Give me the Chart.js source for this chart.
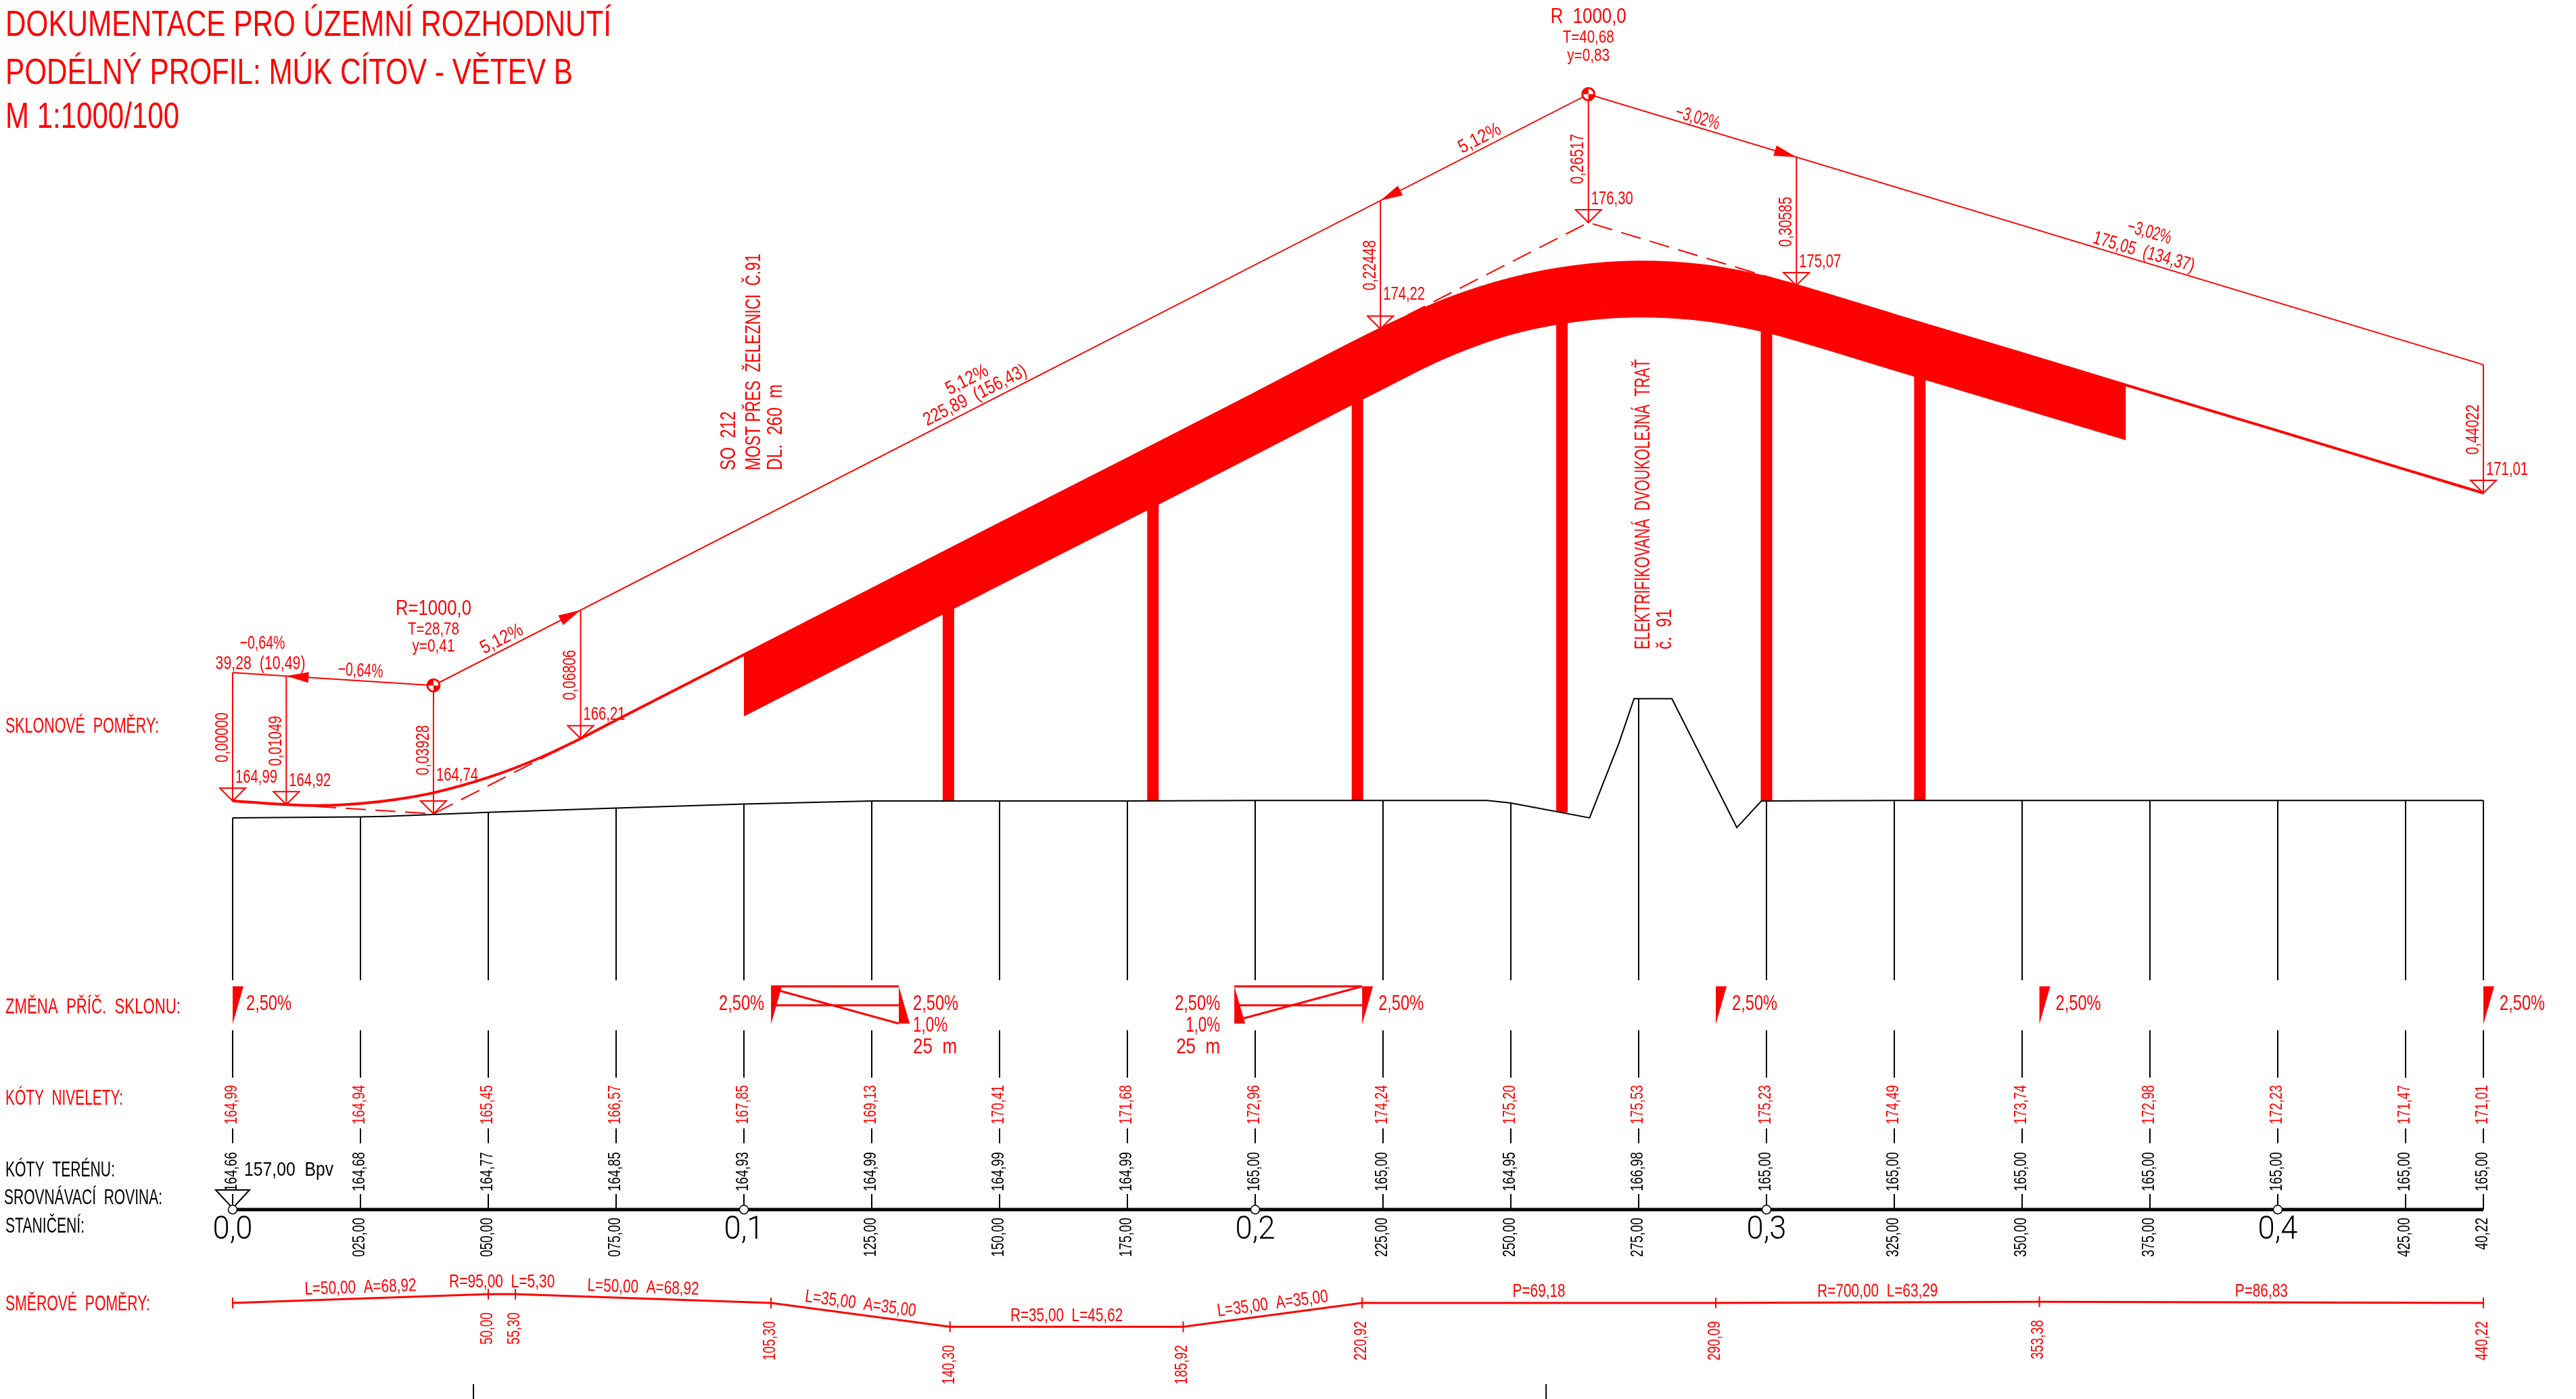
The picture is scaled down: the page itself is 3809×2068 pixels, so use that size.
<!DOCTYPE html>
<html>
<head>
<meta charset="utf-8">
<title>Podélný profil</title>
<style>
  html, body { margin: 0; padding: 0; background: #fff; }
  #wrap { width: 3809px; height: 2068px; }
</style>
<script src="https://cdn.jsdelivr.net/npm/chart.js@4/dist/chart.umd.min.js"></script>
</head>
<body>
<div id="wrap"><canvas id="profil" width="3809" height="2068"></canvas></div>
<script>
// stationing table
const stations = [0, 25, 50, 75, 100, 125, 150, 175, 200, 225, 250, 275, 300, 325, 350, 375, 400, 425, 440.22];
const stationLabels = ['0,0', '025,00', '050,00', '075,00', '0,1', '125,00', '150,00', '175,00', '0,2', '225,00', '250,00', '275,00', '0,3', '325,00', '350,00', '375,00', '0,4', '425,00', '40,22'];
const niveletaLabels = ['164,99', '164,94', '165,45', '166,57', '167,85', '169,13', '170,41', '171,68', '172,96', '174,24', '175,20', '175,53', '175,23', '174,49', '173,74', '172,98', '172,23', '171,47', '171,01'];
const terenLabels = ['164,66', '164,68', '164,77', '164,85', '164,93', '164,99', '164,99', '164,99', '165,00', '165,00', '164,95', '166,98', '165,00', '165,00', '165,00', '165,00', '165,00', '165,00', '165,00'];
const terenValues = [164.66, 164.68, 164.77, 164.85, 164.93, 164.99, 164.99, 164.99, 165.00, 165.00, 164.95, 166.98, 165.00, 165.00, 165.00, 165.00, 165.00, 165.00, 165.00];

// terrain outline, with the railway embankment
const terrainStations = [0, 25, 30, 50, 75, 100, 125, 150, 175, 200, 225, 245.4, 250, 265.4, 271.1, 274.1, 281.5, 294.2, 299, 325, 350, 375, 400, 425, 440.22];
const terrainElev = [164.66, 164.68, 164.69, 164.77, 164.85, 164.93, 164.99, 164.99, 164.99, 165.00, 165.00, 165.00, 164.95, 164.66, 166.11, 166.99, 166.99, 164.47, 164.99, 165.00, 165.00, 165.00, 165.00, 165.00, 165.00];

// road level (niveleta)
const profileStations = [0, 10.49, 17, 25, 32, 39.28, 50, 60, 68.06, 75, 100, 125, 150, 175, 200, 224.49, 237.5, 250, 262.5, 275, 287.5, 300, 305.85, 325, 350, 375, 400, 425, 440.22];
const profileElev = [164.99, 164.92, 164.90, 164.94, 165.02, 165.15, 165.45, 165.83, 166.21, 166.57, 167.85, 169.13, 170.41, 171.68, 172.96, 174.22, 174.80, 175.20, 175.44, 175.53, 175.46, 175.23, 175.07, 174.49, 173.74, 172.98, 172.23, 171.47, 171.01];

// bridge deck SO 212
const deckStations = [100, 125, 150, 175, 200, 224.49, 237.5, 250, 262.5, 275, 287.5, 300, 305.85, 325, 350, 370.3];
const deckTop = [167.85, 169.13, 170.41, 171.68, 172.96, 174.22, 174.80, 175.20, 175.44, 175.53, 175.46, 175.23, 175.07, 174.49, 173.74, 173.13];
const deckBottom = [166.65, 167.93, 169.21, 170.48, 171.76, 173.02, 173.66, 174.11, 174.36, 174.45, 174.38, 174.15, 173.99, 173.41, 172.66, 172.05];
const pierStations = [140, 180, 220, 260, 300, 330];
const pierTop = [168.9, 171.0, 173.0, 174.6, 174.4, 173.5];
const pierBottom = [165.0, 165.0, 165.0, 164.77, 165.0, 165.0];

// grade points and their labels
const gradeStations = [0, 10.49, 39.28, 68.06, 224.49, 265.17, 305.85, 440.22];
const gradeElev = [164.99, 164.92, 164.74, 166.21, 174.22, 176.30, 175.07, 171.01];
const gradeLabels = ['164,99', '164,92', '164,74', '166,21', '174,22', '176,30', '175,07', '171,01'];
const gradeOrdinates = ['0,00000', '0,01049', '0,03928', '0,06806', '0,22448', '0,26517', '0,30585', '0,44022'];
const tangentStations = [0, 39.28, 265.17, 440.22];
const tangentElev = [164.99, 164.74, 176.30, 171.01];
const tangentLift = 2.51;

// horizontal alignment
const dirStations = [0, 50, 55.3, 105.3, 140.3, 185.92, 220.92, 290.09, 353.38, 440.22];
const dirCurvature = [0, 1 / 95, 1 / 95, 0, -1 / 35, -1 / 35, 0, 0, 1 / 700, 0];
const dirStationLabels = ['50,00', '55,30', '105,30', '140,30', '185,92', '220,92', '290,09', '353,38', '440,22'];
const dirSegmentLabels = ['L=50,00  A=68,92', 'R=95,00', 'L=50,00  A=68,92', 'L=35,00  A=35,00', 'R=35,00  L=45,62', 'L=35,00  A=35,00', 'P=69,18', 'R=700,00  L=63,29', 'P=86,83'];

// cross-slope changes
const crownSimple = [0, 290.09, 353.38, 440.22];
const crownFrom = [105.3, 195.92];
const crownTo = [130.3, 220.92];

const RED = '#ff0000';
const BLACK = '#000000';
const W = 3809, H = 2068;
const xPerPx = 7.56, yPerPx = 75.6;
const X0 = 344, Y0 = 1184, E0 = 164.99;

const xMin = -X0 / xPerPx, xMax = (W - X0) / xPerPx;
const yMax = E0 + Y0 / yPerPx, yMin = E0 - (H - Y0) / yPerPx;
// band rows are given in picture rows and turned into the elevation axis
const rowY = row => yMax - row / yPerPx;

const xy = (xs, ys) => xs.map((x, i) => ({ x, y: ys[i] }));
function gaps(pairs) {
  const out = [];
  pairs.forEach(p => { out.push(p[0], p[1], { x: p[0].x, y: null }); });
  return out;
}

const tickPairs = [];
stations.forEach((s, i) => {
  tickPairs.push([{ x: s, y: terenValues[i] }, { x: s, y: rowY(1449) }]);
  tickPairs.push([{ x: s, y: rowY(1523) }, { x: s, y: rowY(1593) }]);
  tickPairs.push([{ x: s, y: rowY(1668) }, { x: s, y: rowY(1690) }]);
  tickPairs.push([{ x: s, y: rowY(1765) }, { x: s, y: rowY(1788) }]);
});
[47.1, 256.9].forEach(s => tickPairs.push([{ x: s, y: rowY(2046) }, { x: s, y: rowY(2068) }]));

const ordinatePairs = gradeStations.map((s, i) => {
  const k = tangentAt(s);
  return [{ x: s, y: k + tangentLift }, { x: s, y: gradeElev[i] }];
});
function tangentAt(s) {
  let i = 0;
  while (i < tangentStations.length - 2 && s > tangentStations[i + 1]) i++;
  const f = (s - tangentStations[i]) / (tangentStations[i + 1] - tangentStations[i]);
  return tangentElev[i] + f * (tangentElev[i + 1] - tangentElev[i]);
}

const dirRow = i => rowY(1926 - dirCurvature[i] * 1235);
const dirPoints = dirStations.map((s, i) => ({ x: s, y: dirRow(i) }));
const dirTicks = dirStations.map((s, i) => [{ x: s, y: dirRow(i) + 8 / yPerPx }, { x: s, y: dirRow(i) - 8 / yPerPx }]);

const crownLines = [];
crownFrom.forEach((s, i) => {
  crownLines.push([{ x: s, y: rowY(1458) }, { x: crownTo[i], y: rowY(1458) }]);
  crownLines.push([{ x: s, y: rowY(1486) }, { x: crownTo[i], y: rowY(1486) }]);
});
crownLines.push([{ x: crownFrom[0], y: rowY(1461) }, { x: crownTo[0], y: rowY(1513) }]);
crownLines.push([{ x: crownFrom[1], y: rowY(1509) }, { x: crownTo[1], y: rowY(1458) }]);

const line = (data, color, width, extra) => Object.assign({
  data, borderColor: color, backgroundColor: color, borderWidth: width,
  pointRadius: 0, fill: false, tension: 0, spanGaps: false, borderCapStyle: 'butt', borderJoinStyle: 'miter'
}, extra || {});

const datasets = [
  line(xy(terrainStations, terrainElev), BLACK, 2),
  line(gaps(tickPairs), BLACK, 2),
  line([{ x: 0, y: 157 }, { x: 440.22, y: 157 }], BLACK, 5),
  line(xy(tangentStations, tangentElev.map(e => e + tangentLift)), RED, 2),
  line(gaps(ordinatePairs), RED, 2),
  line(xy(gradeStations.slice(1, 4), gradeElev.slice(1, 4)), RED, 2, { borderDash: [30, 14] }),
  line(xy(gradeStations.slice(4, 7), gradeElev.slice(4, 7)), RED, 2, { borderDash: [30, 14] }),
  line(xy(profileStations, profileElev), RED, 4, { cubicInterpolationMode: 'monotone' }),
  line(xy(deckStations, deckTop), RED, 1, { cubicInterpolationMode: 'monotone', fill: '+1' }),
  line(xy(deckStations, deckBottom), RED, 1, { cubicInterpolationMode: 'monotone' }),
  line(gaps(pierStations.map((s, i) => [{ x: s, y: pierTop[i] }, { x: s, y: pierBottom[i] }])), RED, 17),
  line(dirPoints, RED, 3),
  line(gaps(dirTicks), RED, 2),
  line(gaps(crownLines), RED, 3)
];

function text(ctx, str, x, y, o) {
  o = o || {};
  ctx.save();
  ctx.translate(x, y);
  ctx.rotate((o.rot || 0) * Math.PI / 180);
  ctx.font = (o.weight ? o.weight + ' ' : '') + (o.size || 26) + 'px ' + (o.family || '"Liberation Sans"');
  ctx.fillStyle = o.color || RED;
  ctx.textAlign = o.align || 'center';
  ctx.textBaseline = 'middle';
  let sx = o.sx || 1;
  if (o.w) sx = o.w / ctx.measureText(str).width;
  ctx.scale(sx, 1);
  ctx.fillText(str, 0, 0);
  ctx.restore();
}

function triangle(ctx, pts, fill, stroke) {
  ctx.beginPath();
  pts.forEach((p, i) => i ? ctx.lineTo(p[0], p[1]) : ctx.moveTo(p[0], p[1]));
  ctx.closePath();
  if (fill) { ctx.fillStyle = fill; ctx.fill(); }
  if (stroke) { ctx.strokeStyle = stroke; ctx.lineWidth = 2; ctx.stroke(); }
}

const drawing = {
  id: 'drawing',
  afterDatasetsDraw(chart) {
    const ctx = chart.ctx;
    const sx = chart.scales.x, sy = chart.scales.y;
    const PX = v => sx.getPixelForValue(v);
    const PY = v => sy.getPixelForValue(v);

    // title block
    text(ctx, 'DOKUMENTACE PRO ÚZEMNÍ ROZHODNUTÍ', 8, 38, { size: 54, w: 896, align: 'left' });
    text(ctx, 'PODÉLNÝ PROFIL: MÚK CÍTOV - VĚTEV B', 8, 109, { size: 54, w: 839, align: 'left' });
    text(ctx, 'M 1:1000/100', 8, 174, { size: 54, w: 257, align: 'left' });

    // row captions
    const cap = { size: 31, align: 'left' };
    text(ctx, 'SKLONOVÉ  POMĚRY:', 8, 1074, Object.assign({ w: 227 }, cap));
    text(ctx, 'ZMĚNA  PŘÍČ.  SKLONU:', 8, 1489, Object.assign({ w: 259 }, cap));
    text(ctx, 'KÓTY  NIVELETY:', 8, 1624, Object.assign({ w: 174 }, cap));
    text(ctx, 'KÓTY  TERÉNU:', 8, 1730, Object.assign({ w: 162, color: BLACK }, cap));
    text(ctx, 'SROVNÁVACÍ  ROVINA:', 6, 1771, Object.assign({ w: 234, color: BLACK }, cap));
    text(ctx, 'STANIČENÍ:', 8, 1813, Object.assign({ w: 117, color: BLACK }, cap));
    text(ctx, 'SMĚROVÉ  POMĚRY:', 8, 1928, Object.assign({ w: 214 }, cap));

    // datum
    const x0 = PX(0), yd = PY(157);
    triangle(ctx, [[x0 - 25, yd - 29], [x0 + 25, yd - 29], [x0, yd - 2]], null, BLACK);
    text(ctx, '157,00  Bpv', x0 + 17, 1730, { size: 29, w: 132, color: BLACK, align: 'left' });

    // station columns
    stations.forEach((s, i) => {
      const x = PX(s);
      text(ctx, niveletaLabels[i], x - 1, 1662, { size: 25, sx: 0.76, rot: -90, align: 'left' });
      text(ctx, terenLabels[i], x - 1, 1761, { size: 25, sx: 0.76, rot: -90, align: 'left', color: BLACK });
      const lab = stationLabels[i];
      if (lab.length === 3) {
        ctx.beginPath();
        ctx.ellipse(x, PY(157), 6.5, 6.5, 0, 0, Math.PI * 2);
        ctx.fillStyle = '#fff';
        ctx.fill();
        ctx.strokeStyle = BLACK;
        ctx.lineWidth = 1.5;
        ctx.stroke();
        text(ctx, lab, x, 1819, { size: 49, w: 59, color: BLACK, family: 'Roboto', weight: 300 });
      } else {
        text(ctx, lab, x - 1, 1800, { size: 25, sx: 0.76, rot: -90, align: 'right', color: BLACK });
      }
    });

    // grade levels, triangles and ordinates
    gradeStations.forEach((s, i) => {
      const x = PX(s), tip = PY(gradeElev[i]);
      triangle(ctx, [[x - 19, tip - 19], [x + 19, tip - 19], [x, tip]], null, RED);
      const lift = i === 2 ? 57 : i === 4 ? 51 : 35;
      text(ctx, gradeLabels[i], x + 4, tip - lift, { size: 28, w: 62, align: 'left' });
      text(ctx, gradeOrdinates[i], x - 15, tip - 57, { size: 28, w: 74, rot: -90, align: 'left' });
    });

    // arrow heads on the tangent line
    const slope = [[10.49, 39.28], [68.06, 39.28], [224.49, 265.17], [305.85, 265.17]];
    slope.forEach(a => {
      const tx = PX(a[0]), ty = PY(tangentAt(a[0]) + tangentLift);
      const bx = PX(a[1]), by = PY(tangentAt(a[1]) + tangentLift);
      const len = Math.hypot(bx - tx, by - ty);
      const ux = (bx - tx) / len, uy = (by - ty) / len;
      triangle(ctx, [[tx, ty], [tx + ux * 33 - uy * 8, ty + uy * 33 + ux * 8], [tx + ux * 33 + uy * 8, ty + uy * 33 - ux * 8]], RED);
    });

    // tangent intersections
    [[39.28, 164.74], [265.17, 176.30]].forEach(p => {
      const x = PX(p[0]), y = PY(p[1] + tangentLift);
      ctx.beginPath();
      ctx.arc(x, y, 9, 0, Math.PI * 2);
      ctx.fillStyle = '#fff';
      ctx.fill();
      ctx.strokeStyle = RED;
      ctx.lineWidth = 3;
      ctx.stroke();
      ctx.fillStyle = RED;
      ctx.beginPath();
      ctx.moveTo(x, y);
      ctx.arc(x, y, 9, Math.PI, Math.PI * 1.5);
      ctx.closePath();
      ctx.fill();
      ctx.beginPath();
      ctx.moveTo(x, y);
      ctx.arc(x, y, 9, 0, Math.PI * 0.5);
      ctx.closePath();
      ctx.fill();
    });

    // curve data and slope labels
    const a = PX(39.28), b = PX(265.17);
    text(ctx, 'R=1000,0', a, 900, { size: 31, w: 112 });
    text(ctx, 'T=28,78', a, 931, { size: 26, w: 76 });
    text(ctx, 'y=0,41', a, 956, { size: 26, w: 63 });
    text(ctx, 'R  1000,0', b, 25, { size: 31, w: 112 });
    text(ctx, 'T=40,68', b, 56, { size: 26, w: 76 });
    text(ctx, 'y=0,83', b, 83, { size: 26, w: 63 });
    const sl = { size: 28, w: 67 };
    text(ctx, '−0,64%', 388, 951, sl);
    text(ctx, '39,28  (10,49)', 385, 981, { size: 28, w: 133 });
    text(ctx, '−0,64%', 533, 992, Object.assign({ rot: 3 }, sl));
    text(ctx, '5,12%', 742, 945, Object.assign({ rot: -27 }, sl));
    text(ctx, '5,12%', 1430, 562, Object.assign({ rot: -27 }, sl));
    text(ctx, '225,89  (156,43)', 1442, 585, { size: 28, w: 168, rot: -27 });
    text(ctx, '5,12%', 2188, 205, Object.assign({ rot: -27 }, sl));
    text(ctx, '−3,02%', 2510, 175, Object.assign({ rot: 16 }, sl));
    text(ctx, '−3,02%', 3178, 344, Object.assign({ rot: 16 }, sl));
    text(ctx, '175,05  (134,37)', 3170, 373, { size: 28, w: 155, rot: 16 });

    // vertical notes
    const note = { size: 31, rot: -90, align: 'left' };
    text(ctx, 'SO  212', 1078, 695, Object.assign({ w: 87 }, note));
    text(ctx, 'MOST PŘES  ŽELEZNICI  Č.91', 1115, 695, Object.assign({ w: 320 }, note));
    text(ctx, 'DL.  260  m', 1147, 695, Object.assign({ w: 127 }, note));
    text(ctx, 'ELEKTRIFIKOVANÁ  DVOUKOLEJNÁ  TRAŤ', 2430, 960, Object.assign({ w: 429 }, note));
    text(ctx, 'č.  91', 2462, 960, Object.assign({ w: 60 }, note));

    // cross slope wedges
    const top = 1458, bot = 1514;
    crownSimple.forEach(s => {
      const x = PX(s);
      triangle(ctx, [[x, top], [x + 16, top], [x, bot]], RED);
    });
    crownFrom.forEach((s, i) => {
      const x = PX(s), e = PX(crownTo[i]);
      if (i === 0) {
        triangle(ctx, [[x, top], [x + 16, top], [x, bot]], RED);
        triangle(ctx, [[e, top], [e + 16, bot - 1], [e, bot - 1]], RED);
      } else {
        triangle(ctx, [[x, top], [x + 16, bot - 1], [x, bot - 1]], RED);
        triangle(ctx, [[e, top], [e + 16, top], [e, bot]], RED);
      }
    });
    const pct = { size: 32, w: 67 };
    const right = s => PX(s) + 24;
    crownSimple.forEach(s => text(ctx, '2,50%', right(s) - (s === 0 ? 4 : 0), 1484, Object.assign({ align: 'left' }, pct)));
    text(ctx, '2,50%', PX(105.3) - 10, 1484, Object.assign({ align: 'right' }, pct));
    text(ctx, '2,50%', PX(130.3) + 21, 1484, Object.assign({ align: 'left' }, pct));
    text(ctx, '1,0%', PX(130.3) + 21, 1516, { size: 32, w: 51, align: 'left' });
    text(ctx, '25  m', PX(130.3) + 21, 1548, { size: 32, w: 65, align: 'left' });
    text(ctx, '2,50%', PX(195.92) - 21, 1484, Object.assign({ align: 'right' }, pct));
    text(ctx, '1,0%', PX(195.92) - 21, 1516, { size: 32, w: 51, align: 'right' });
    text(ctx, '25  m', PX(195.92) - 21, 1548, { size: 32, w: 65, align: 'right' });
    text(ctx, '2,50%', right(220.92), 1484, Object.assign({ align: 'left' }, pct));

    // horizontal alignment labels
    dirStationLabels.forEach((lab, i) => {
      const k = i + 1;
      text(ctx, lab, PX(dirStations[k]) - 1, PY(dirRow(k)) + 27, { size: 25, sx: 0.76, rot: -90, align: 'right' });
    });
    dirSegmentLabels.forEach((lab, i) => {
      const x1 = PX(dirStations[i]), x2 = PX(dirStations[i + 1]);
      const y1 = PY(dirRow(i)), y2 = PY(dirRow(i + 1));
      const rot = Math.atan2(y2 - y1, x2 - x1) * 180 / Math.PI;
      if (i === 1) {
        text(ctx, lab, (x1 + x2) / 2 - 38, (y1 + y2) / 2 - 17, { size: 27, w: 80 });
        text(ctx, 'L=5,30', (x1 + x2) / 2 + 46, (y1 + y2) / 2 - 17, { size: 27, w: 65 });
      } else {
        text(ctx, lab, (x1 + x2) / 2, (y1 + y2) / 2 - 16, { size: 27, sx: 0.77, rot });
      }
    });
  }
};

new Chart(document.getElementById('profil'), {
  type: 'line',
  data: { datasets },
  plugins: [drawing],
  options: {
    responsive: false,
    animation: false,
    devicePixelRatio: 1,
    parsing: true,
    layout: { padding: 0 },
    plugins: { legend: { display: false }, tooltip: { enabled: false }, title: { display: false } },
    scales: {
      x: { type: 'linear', min: xMin, max: xMax, display: false },
      y: { type: 'linear', min: yMin, max: yMax, display: false }
    }
  }
});
</script>
</body>
</html>
